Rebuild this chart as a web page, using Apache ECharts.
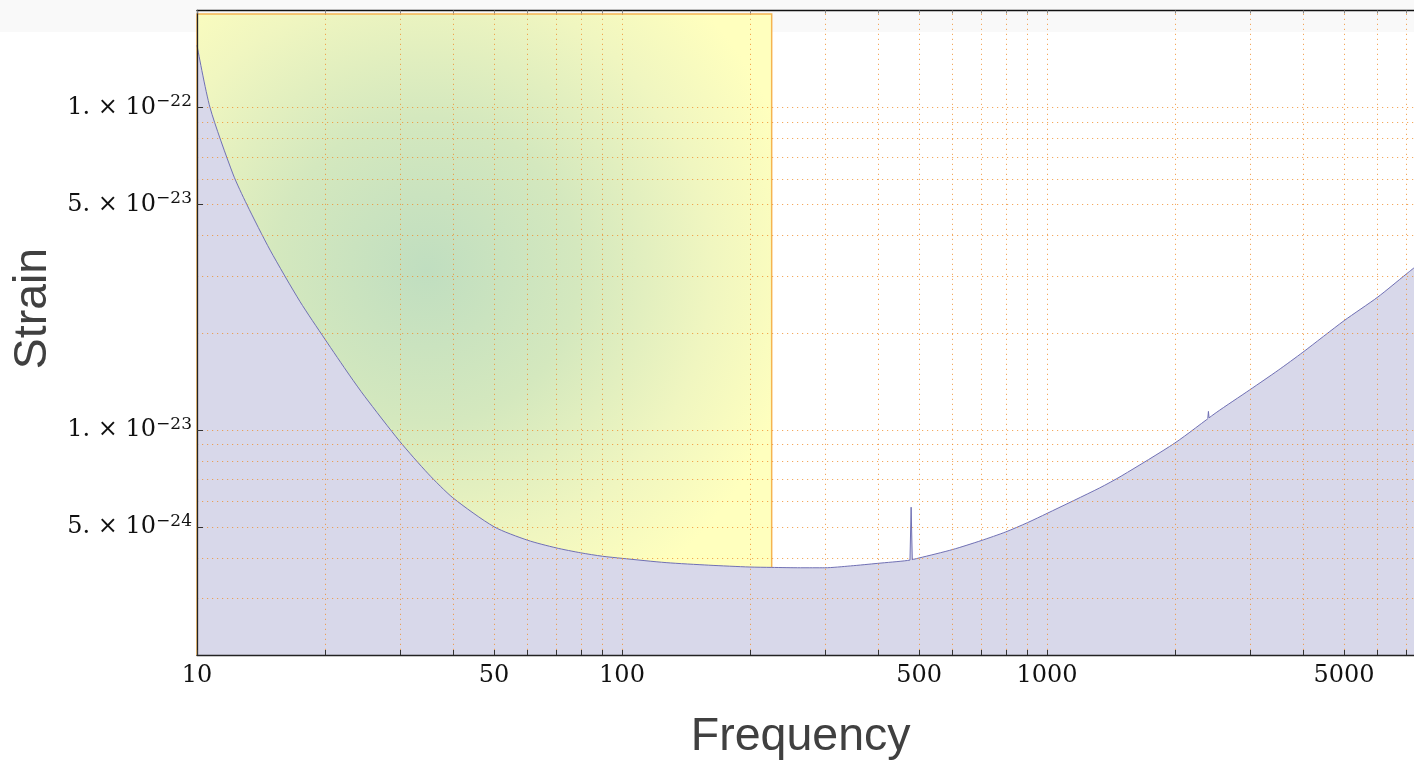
<!DOCTYPE html>
<html>
<head>
<meta charset="utf-8">
<script src="https://cdn.jsdelivr.net/npm/echarts@6/dist/echarts.min.js"></script>
<style>
  html, body { margin: 0; padding: 0; background: #ffffff; }
  #chart { width: 1414px; height: 763px; }
</style>
</head>
<body>
<div id="chart"></div>
<script>
// ---- Data ----
// Smooth noise curve
const freq = [10, 10.73, 12.15, 13.1, 14.86, 17.47, 20, 22.9, 24.8, 30, 35, 40, 50, 60, 70, 80, 90, 100, 127, 160, 200, 225, 263, 300, 345, 400, 470, 500, 600, 700, 800, 900, 1000, 1330, 1500, 2000, 2500, 3000, 3500, 4000, 5000, 6000, 7000, 7304];
const strain = [1.56e-22, 1.0e-22, 6.22e-23, 5.0e-23, 3.61e-23, 2.5e-23, 1.91e-23, 1.47e-23, 1.27e-23, 9.2e-24, 7.3e-24, 6.15e-24, 5.0e-24, 4.54e-24, 4.3e-24, 4.15e-24, 4.05e-24, 3.99e-24, 3.87e-24, 3.8e-24, 3.75e-24, 3.74e-24, 3.73e-24, 3.73e-24, 3.78e-24, 3.85e-24, 3.93e-24, 4.0e-24, 4.25e-24, 4.53e-24, 4.82e-24, 5.15e-24, 5.5e-24, 6.6e-24, 7.2e-24, 9.1e-24, 1.13e-23, 1.33e-23, 1.53e-23, 1.74e-23, 2.18e-23, 2.58e-23, 3.04e-23, 3.18e-23];
// Narrow spectral lines
const spikeAFreq = [476, 479, 482];
const spikeAStrain = [3.94e-24, 5.75e-24, 3.95e-24];
const spikeBFreq = [2390, 2398, 2406];
const spikeBStrain = [1.085e-23, 1.14e-23, 1.09e-23];

const regionFreq = [10, 225];
const regionStrain = [2e-24, 1.95e-22];

const xRange = [10, 7304];
const yRange = [2e-24, 2e-22];

const xTickLabels = [10, 50, 100, 500, 1000, 5000];
const xGridValues = [20, 30, 40, 50, 60, 70, 80, 90, 100, 200, 300, 400, 500, 600, 700, 800, 900, 1000, 2000, 3000, 4000, 5000, 6000, 7000];
const yTickValues = [5e-24, 1e-23, 5e-23, 1e-22];
const yTickMantissa = ['5.', '1.', '5.', '1.'];
const yTickExponent = ['\u221224', '\u221223', '\u221223', '\u221222'];
const yGridValues = [3e-24, 4e-24, 5e-24, 6e-24, 7e-24, 8e-24, 9e-24, 1e-23, 2e-23, 3e-23, 4e-23, 5e-23, 6e-23, 7e-23, 8e-23, 9e-23, 1e-22];

const xTitle = 'Frequency';
const yTitle = 'Strain';

// The log axis works in units of 1e-24 strain (avoids precision rounding of tiny numbers)
const UNIT = 1e-24;
const u = (v) => v / UNIT;

// ---- Chart ----
const chart = echarts.init(document.getElementById('chart'), null, { renderer: 'canvas' });

const serif = 'DejaVu Serif';
const curveColor = 'rgb(112,112,180)';
const gridLineStyle = { color: 'rgba(240,140,40,0.75)', width: 1, type: [1.2, 3.8] };

function yLabel(value) {
  let idx = 0, best = Infinity;
  yTickValues.forEach((v, i) => {
    const d = Math.abs(Math.log10(value) - Math.log10(u(v)));
    if (d < best) { best = d; idx = i; }
  });
  return '{m|' + yTickMantissa[idx] + ' \u00d7 10}{e|' + yTickExponent[idx] + '}';
}

const tickValuesX = Array.from(new Set(xGridValues.concat(xTickLabels))).sort((a, b) => a - b);
const noiseData = freq.map((f, i) => [f, u(strain[i])]);
const spikeAData = spikeAFreq.map((f, i) => [f, u(spikeAStrain[i])]);
const spikeBData = spikeBFreq.map((f, i) => [f, u(spikeBStrain[i])]);

const spikeSeries = (name, data) => ({
  name, type: 'line', z: 6, silent: true, data,
  showSymbol: false, symbol: 'none', smooth: false,
  lineStyle: { color: curveColor, width: 1 },
  areaStyle: { color: 'rgb(216,216,234)', opacity: 1, origin: 'start' }
});

const option = {
  animation: false,
  backgroundColor: '#ffffff',
  graphic: [
    { type: 'rect', z: -10, silent: true, shape: { x: 0, y: 0, width: 1414, height: 32 }, style: { fill: '#f9f9f9' } },
    { type: 'text', silent: true, x: 800.7, y: 737.5,
      style: { text: xTitle, font: '46.5px "Liberation Sans"', fill: '#404040', align: 'center', verticalAlign: 'middle' } },
    { type: 'text', silent: true, x: 33.5, y: 308.5, rotation: Math.PI / 2,
      style: { text: yTitle, font: '46.5px "Liberation Sans"', fill: '#404040', align: 'center', verticalAlign: 'middle' } }
  ],
  grid: { left: 197, right: 0, top: 10.5, bottom: 108, containLabel: false },
  xAxis: [
    {
      type: 'log', logBase: 10, min: xRange[0], max: xRange[1], position: 'bottom', z: 10,
      axisLine: { show: true, lineStyle: { color: '#222', width: 1.3 } },
      axisTick: { show: true, inside: true, length: 5, customValues: tickValuesX, lineStyle: { color: '#333', width: 1 } },
      axisLabel: { show: true, customValues: xTickLabels, margin: 9, fontFamily: serif, fontSize: 24, color: '#111',
        formatter: (v) => String(Math.round(v)) },
      splitLine: { show: false }, minorTick: { show: false }, minorSplitLine: { show: false }
    },
    {
      type: 'log', logBase: 10, min: xRange[0], max: xRange[1], position: 'top', z: 10,
      axisLine: { show: true, lineStyle: { color: '#111', width: 1.3 } },
      axisTick: { show: true, inside: true, length: 3, customValues: tickValuesX, lineStyle: { color: '#888', width: 1 } },
      axisLabel: { show: false },
      splitLine: { show: false }
    }
  ],
  yAxis: {
    type: 'log', logBase: 10, min: u(yRange[0]), max: u(yRange[1]), z: 10,
    axisLine: { show: true, lineStyle: { color: '#222', width: 1.3 } },
    axisTick: { show: true, inside: true, length: 6, customValues: yTickValues.map(u), lineStyle: { color: '#333', width: 1 } },
    axisLabel: {
      show: true, customValues: yTickValues.map(u), margin: 5, formatter: yLabel,
      rich: {
        m: { fontFamily: serif, fontSize: 24, lineHeight: 28, color: '#111' },
        e: { fontFamily: serif, fontSize: 17, lineHeight: 17, verticalAlign: 'top', color: '#111' }
      }
    },
    splitLine: { show: false }, minorTick: { show: false }
  },
  series: [
    {
      name: 'region', type: 'line', data: [], z: 1, silent: true,
      markArea: {
        silent: true,
        itemStyle: {
          color: {
            type: 'radial', x: 0.40, y: 0.40, r: 0.66,
            colorStops: [
              { offset: 0, color: 'rgb(192,222,192)' },
              { offset: 0.4, color: 'rgb(212,232,190)' },
              { offset: 0.75, color: 'rgb(240,246,192)' },
              { offset: 1, color: 'rgb(255,255,190)' }
            ]
          },
          borderColor: 'rgb(245,180,80)', borderWidth: 1.5
        },
        data: [[{ coord: [regionFreq[0], u(regionStrain[0])] }, { coord: [regionFreq[1], u(regionStrain[1])] }]]
      }
    },
    {
      name: 'grid', type: 'line', data: [], z: 4, silent: true,
      markLine: {
        silent: true, symbol: ['none', 'none'], label: { show: false },
        lineStyle: gridLineStyle,
        emphasis: { disabled: true },
        data: xGridValues.map(v => ({ xAxis: v })).concat(yGridValues.map(v => ({ yAxis: u(v) })))
      }
    },
    {
      name: 'noise', type: 'line', z: 3, silent: true,
      data: noiseData,
      showSymbol: false, symbol: 'none',
      smooth: 0.25,
      lineStyle: { color: curveColor, width: 1 },
      areaStyle: { color: 'rgb(216,216,234)', opacity: 1, origin: 'start' }
    },
    spikeSeries('line479', spikeAData),
    spikeSeries('line2398', spikeBData)
  ]
};

chart.setOption(option);
</script>
</body>
</html>
